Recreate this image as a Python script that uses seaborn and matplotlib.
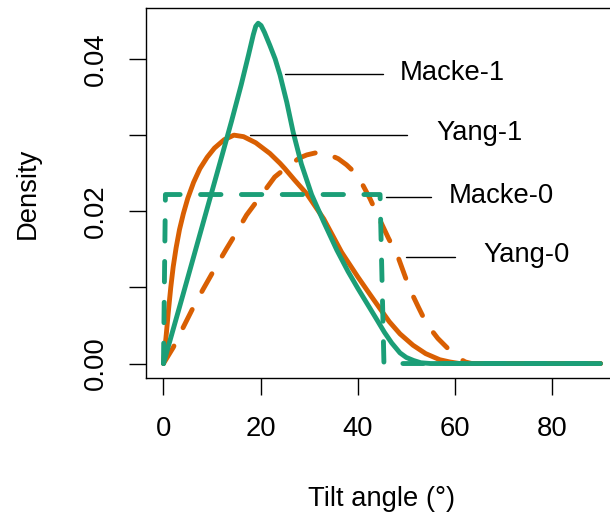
import matplotlib
matplotlib.use("Agg")
import matplotlib.pyplot as plt
import seaborn as sns
import pandas as pd

# Tilt-angle density curves for the four leaf-angle models
yang0_x = [0, 2.0, 4.1, 6.15, 8.2, 10.6, 13.0, 15.1, 17.1, 19.9, 22.9, 25.4, 28.0,
           29.5, 31.5, 33.9, 36.0, 37.7, 39.2, 40.5, 42.5, 44.3, 46.3, 48.3, 50.7,
           52.5, 54.2, 56.5, 59.0, 60.8, 62.2, 63.5, 90]
yang0_y = [0, 0.0021, 0.0048, 0.0074, 0.0098, 0.0125, 0.0151, 0.0173, 0.0195, 0.0219,
           0.0245, 0.0258, 0.0270, 0.0274, 0.0277, 0.0275, 0.0269, 0.0261, 0.0252,
           0.0241, 0.0217, 0.0192, 0.0165, 0.0140, 0.0098, 0.0074, 0.0052, 0.0033,
           0.0017, 0.0007, 0.0002, 0, 0]

yang1_x = [0, 0.3, 0.6, 1.0, 1.5, 2.0, 2.6, 3.3, 4.1, 5.0, 6.2, 7.5, 9.0, 10.5, 12.5,
           14.5, 16.5, 19.0, 21.9, 24.0, 25.0, 27.0, 29.5, 33.0, 36.7, 40.0, 42.5,
           44.6, 46.5, 48.7, 51.4, 54.0, 56.9, 59.0, 61.0, 90]
yang1_y = [0, 0.0020, 0.0040, 0.0068, 0.0100, 0.0127, 0.0152, 0.0176, 0.0197, 0.0217,
           0.0238, 0.0256, 0.0271, 0.0283, 0.0294, 0.0300, 0.0298, 0.0290, 0.0276,
           0.0263, 0.0256, 0.0241, 0.0223, 0.0190, 0.0146, 0.0114, 0.0091, 0.0072,
           0.0055, 0.0039, 0.0024, 0.0013, 0.0005, 0.0002, 0, 0]

macke0_x = [0, 0.4, 44.6, 45.4, 90]
macke0_y = [0, 0.0222, 0.0222, 0, 0]

macke1_x = [0, 4, 8, 12, 14, 16, 17.5, 18.5, 19.0, 19.5, 20.1, 20.8, 21.9, 23.0, 24.0,
            25.4, 26.7, 28.4, 30.5, 33.0, 35.7, 38.0, 40.0, 42.0, 44.0, 45.5, 47.0,
            48.7, 50.0, 51.5, 53.0, 55.0, 90]
macke1_y = [0, 0.0090, 0.0181, 0.0272, 0.0318, 0.0366, 0.0405, 0.0432, 0.0443, 0.0447,
            0.0444, 0.0435, 0.0418, 0.0400, 0.0379, 0.0343, 0.0304, 0.0262, 0.0222,
            0.0186, 0.0149, 0.0121, 0.0099, 0.0078, 0.0057, 0.0041, 0.0027, 0.0014,
            0.0008, 0.0004, 0.0001, 0, 0]

model_names = ["Macke-1", "Yang-1", "Macke-0", "Yang-0"]

GREEN = "#1B9E77"
ORANGE = "#D95F02"

sns.set_theme(style="ticks")
plt.rcParams["font.family"] = ["Liberation Sans", "DejaVu Sans"]
plt.rcParams["font.size"] = 19.7
plt.rcParams["text.color"] = "black"
plt.rcParams["axes.labelcolor"] = "black"
plt.rcParams["xtick.color"] = "black"
plt.rcParams["ytick.color"] = "black"

fig = plt.figure(figsize=(6.10, 5.16), dpi=100)
ax = fig.add_axes([146 / 610, 1 - 378 / 516, (618 - 146) / 610, (378 - 8) / 516])

dash = (0, (4.2, 4.2))
lw = 3.5
series = [
    (yang1_x, yang1_y, ORANGE, "-"),
    (yang0_x, yang0_y, ORANGE, dash),
    (macke0_x, macke0_y, GREEN, dash),
    (macke1_x, macke1_y, GREEN, "-"),
]
for xs, ys, col, ls in series:
    df = pd.DataFrame({"angle": xs, "density": ys})
    sns.lineplot(data=df, x="angle", y="density", ax=ax, color=col, linestyle=ls,
                 linewidth=lw, sort=False, estimator=None,
                 solid_capstyle="round", dash_capstyle="round",
                 solid_joinstyle="round", dash_joinstyle="round")

# leader lines and model names
leaders = {
    "Macke-1": (25.0, 45.2, 0.0380, 48.7, 0.0382),
    "Yang-1": (17.8, 50.1, 0.0300, 56.1, 0.0303),
    "Macke-0": (45.9, 55.1, 0.0219, 58.8, 0.0220),
    "Yang-0": (50.0, 60.0, 0.0140, 65.8, 0.0142),
}
for name in model_names:
    x0, x1, yl, xt, yt = leaders[name]
    ax.plot([x0, x1], [yl, yl], color="black", linewidth=1.0)
    ax.text(xt, yt, name, ha="left", va="center", fontsize=19.7, color="black")

ax.set_xlim(-3.6, 93.6)
ax.set_ylim(-0.0019, 0.0467)
ax.set_xticks([0, 20, 40, 60, 80])
ax.set_yticks([0, 0.01, 0.02, 0.03, 0.04])
ax.set_yticklabels(["0.00", "", "0.02", "", "0.04"])

for side in ["top", "right", "left", "bottom"]:
    ax.spines[side].set_visible(True)
    ax.spines[side].set_linewidth(1.0)
    ax.spines[side].set_color("black")

ax.tick_params(axis="both", direction="out", length=12.5, width=1.0,
               color="black", labelsize=19.7, labelcolor="black", pad=14.5)
ax.tick_params(axis="y", labelrotation=90)
for lab in ax.get_yticklabels():
    lab.set_va("center")

ax.set_xlabel("Tilt angle (°)", fontsize=19.7, color="black")
ax.set_ylabel("Density", fontsize=19.7, color="black")
ax.xaxis.set_label_coords(0.5, -0.292)
ax.yaxis.set_label_coords(-0.222, 0.5)
ax.grid(False)

fig.savefig("out.png", dpi=100)
